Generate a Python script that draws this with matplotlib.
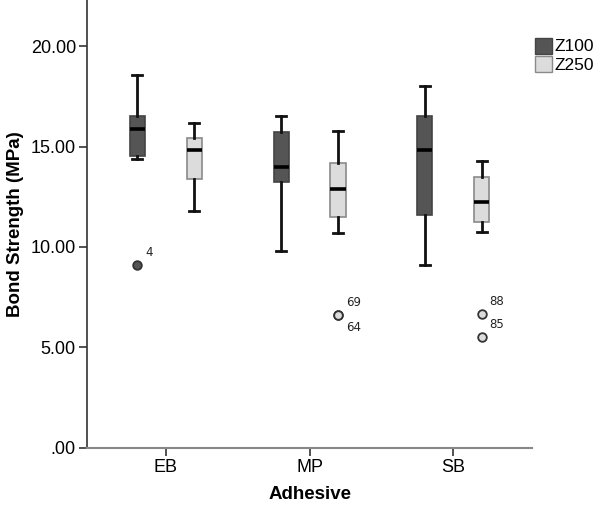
import matplotlib
matplotlib.use("Agg")
import matplotlib.pyplot as plt
from matplotlib.patches import Patch

# ---- data ----
groups = ["EB", "MP", "SB"]
series = ["Z100", "Z250"]

z100_whislo = [14.36, 9.81, 9.10]
z100_q1 = [14.53, 13.25, 11.59]
z100_med = [15.89, 13.96, 14.81]
z100_q3 = [16.53, 15.72, 16.50]
z100_whishi = [18.55, 16.50, 18.01]
z100_outliers = [[9.11], [], []]
z100_outlier_ids = [["4"], [], []]

z250_whislo = [11.80, 10.71, 10.73]
z250_q1 = [13.37, 11.47, 11.24]
z250_med = [14.84, 12.88, 12.22]
z250_q3 = [15.41, 14.16, 13.47]
z250_whishi = [16.19, 15.76, 14.29]
z250_outliers = [[], [6.61, 6.61], [6.64, 5.53]]
z250_outlier_ids = [[], ["69", "64"], ["88", "85"]]

y_ticks = [0, 5, 10, 15, 20]
y_ticklabels = [".00", "5.00", "10.00", "15.00", "20.00"]

# ---- style ----
plt.rcParams["font.family"] = ["Liberation Sans", "DejaVu Sans"]
fill_colors = ["#555555", "#dcdcdc"]
edge_colors = ["#444444", "#8a8a8a"]
offsets = [-0.198, 0.198]
box_w = 0.105

fig = plt.figure(figsize=(6.0, 5.07), dpi=100)
ax = fig.add_axes([0.145, 0.117, 0.742, 0.883])

data = [
    (z100_whislo, z100_q1, z100_med, z100_q3, z100_whishi, z100_outliers, z100_outlier_ids),
    (z250_whislo, z250_q1, z250_med, z250_q3, z250_whishi, z250_outliers, z250_outlier_ids),
]

for s, (wlo, q1, med, q3, whi, outs, ids) in enumerate(data):
    stats = []
    for g in range(len(groups)):
        stats.append(dict(whislo=wlo[g], q1=q1[g], med=med[g], q3=q3[g],
                          whishi=whi[g], fliers=[]))
    pos = [g + offsets[s] for g in range(len(groups))]
    ax.bxp(stats, positions=pos, widths=box_w, patch_artist=True,
           showfliers=False,
           boxprops=dict(facecolor=fill_colors[s], edgecolor=edge_colors[s], linewidth=1.2),
           medianprops=dict(color="black", linewidth=2.6, solid_capstyle="butt"),
           whiskerprops=dict(color="#111111", linewidth=2.0),
           capprops=dict(color="#111111", linewidth=2.0),
           capwidths=0.07)
    for g in range(len(groups)):
        labeled = set()
        for v, lab in zip(outs[g], ids[g]):
            ax.plot(pos[g], v, marker="o", markersize=6.2,
                    markerfacecolor=fill_colors[s], markeredgecolor="#333333",
                    markeredgewidth=1.3, linestyle="none", zorder=4)
            dy = -9 if v in labeled else 9
            labeled.add(v)
            ax.annotate(lab, (pos[g], v), xytext=(5.5, dy), textcoords="offset points",
                        ha="left", va="center", fontsize=8.5,
                        family=["DejaVu Sans"], color="#222222")

ax.set_xlim(-0.548, 2.549)
ax.set_ylim(0, 22.3)
ax.set_xticks(range(len(groups)))
ax.set_xticklabels(groups, fontsize=13)
ax.set_yticks(y_ticks)
ax.set_yticklabels(y_ticklabels, fontsize=13)
ax.tick_params(axis="both", direction="out", length=6, width=1.2, color="#333333", pad=2)

for sp in ["top", "right"]:
    ax.spines[sp].set_visible(False)
ax.spines["left"].set_color("#333333")
ax.spines["left"].set_linewidth(1.2)
ax.spines["bottom"].set_color("#888888")
ax.spines["bottom"].set_linewidth(1.5)

ax.set_ylabel("Bond Strength (MPa)", fontsize=13.5, fontweight="bold", labelpad=5)
ax.set_xlabel("Adhesive", fontsize=13.5, fontweight="bold", labelpad=7)

handles = [Patch(facecolor=fill_colors[i], edgecolor=edge_colors[i], label=series[i])
           for i in range(len(series))]
fig.legend(handles=handles, loc="upper left", bbox_to_anchor=(0.892, 0.926),
           frameon=False, fontsize=12.5, handlelength=0.95, handleheight=1.05,
           handletextpad=0.15, labelspacing=0.1, borderpad=0.0, borderaxespad=0.0)

fig.savefig("out.png", dpi=100)
